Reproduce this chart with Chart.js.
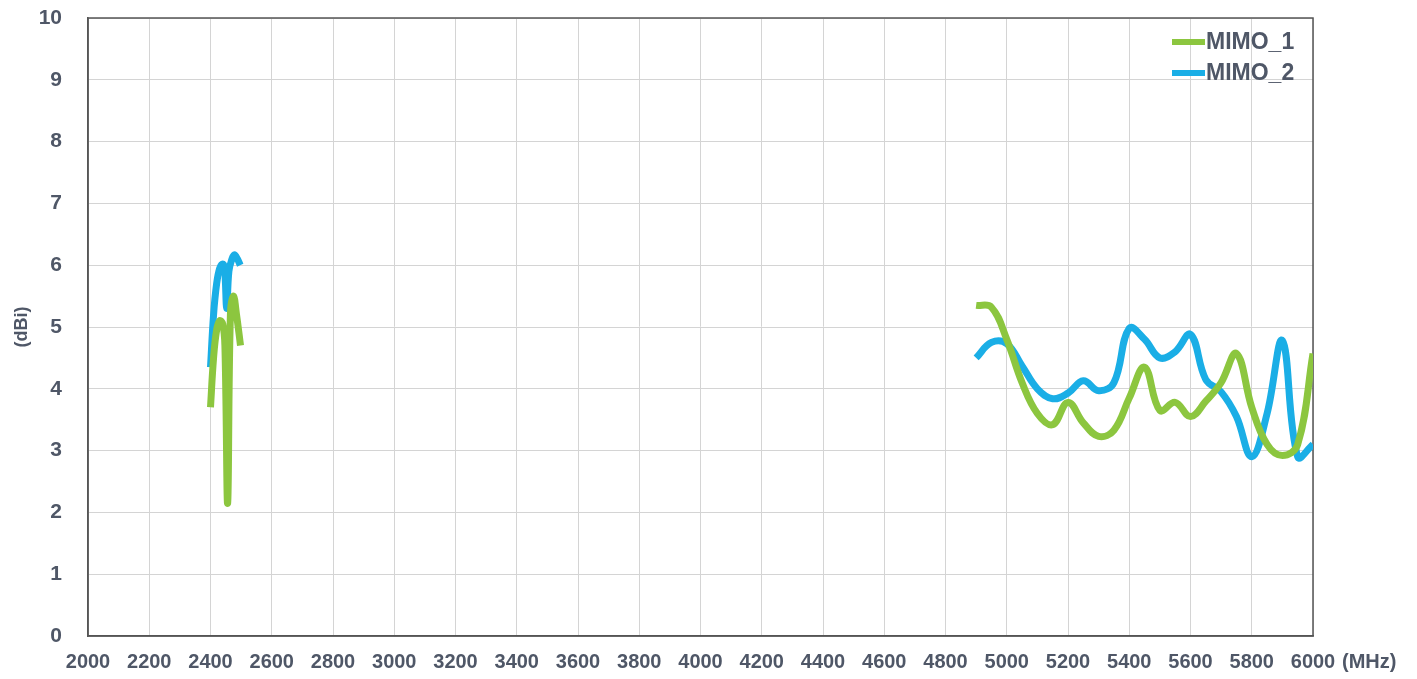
<!DOCTYPE html>
<html>
<head>
<meta charset="utf-8">
<script src="https://cdn.jsdelivr.net/npm/chart.js@4"></script>
<style>
  html, body { margin: 0; padding: 0; background: #fff; }
  #wrap { width: 1417px; height: 679px; }
</style>
</head>
<body>
<div id="wrap"><canvas id="gain-chart"></canvas></div>
<script>
// frequency (MHz) and gain (dBi)
var freq1Low = [2400, 2410, 2420, 2430, 2440, 2447, 2456, 2465, 2475, 2485, 2498];
var mimo1Low = [3.7, 4.5, 4.95, 5.1, 5.05, 4.7, 2.15, 5.2, 5.5, 5.2, 4.7];
var freq2Low = [2400, 2410, 2420, 2430, 2440, 2446, 2453, 2460, 2470, 2478, 2488, 2497];
var mimo2Low = [4.35, 5.2, 5.7, 5.95, 6.02, 5.95, 5.3, 5.9, 6.1, 6.17, 6.1, 6.0];

var freqHigh = [4900, 4950, 5000, 5050, 5100, 5150, 5200, 5250, 5300, 5350, 5400, 5450,
                5500, 5550, 5600, 5650, 5700, 5750, 5800, 5850, 5900, 5950, 6000];
var mimo1High = [5.35, 5.32, 4.8, 4.1, 3.6, 3.42, 3.78, 3.45, 3.23, 3.33, 3.85, 4.35,
                 3.65, 3.78, 3.55, 3.8, 4.1, 4.57, 3.7, 3.1, 2.92, 3.1, 4.57];
var mimo2High = [4.5, 4.75, 4.73, 4.37, 4.0, 3.84, 3.93, 4.13, 3.97, 4.1, 4.98, 4.8,
                 4.5, 4.6, 4.88, 4.15, 3.95, 3.55, 2.9, 3.6, 4.78, 2.9, 3.1];

var seriesNames = ["MIMO_1", "MIMO_2"];

function toPoints(fa, va, fb, vb) {
  var pts = [];
  for (var i = 0; i < fa.length; i++) pts.push({ x: fa[i], y: va[i] });
  pts.push({ x: 3700, y: null }); // gap between the two bands
  for (var j = 0; j < fb.length; j++) pts.push({ x: fb[j], y: vb[j] });
  return pts;
}

var textColor = "#4f5767";
var green = "#8cc63f";
var blue = "#1aaee6";
var fontFam = "'Liberation Sans', Arial, sans-serif";

// frame, (MHz) unit and the legend in the top right
var extras = {
  id: "extras",
  beforeDatasetsDraw: function(chart) {
    var a = chart.chartArea;
    var ctx = chart.ctx;
    ctx.save();
    ctx.strokeStyle = "#555";
    ctx.lineWidth = 1.5;
    ctx.strokeRect(a.left, a.top, a.right - a.left, a.bottom - a.top);
    ctx.restore();
  },
  afterDraw: function(chart) {
    var ctx = chart.ctx;
    var x = chart.scales.x;
    ctx.save();
    ctx.fillStyle = textColor;
    ctx.font = "bold 20px " + fontFam;
    ctx.textBaseline = "middle";
    ctx.textAlign = "left";
    ctx.fillText("(MHz)", x.right + 29, 662);

    var cols = [green, blue];
    for (var i = 0; i < seriesNames.length; i++) {
      var yy = 42 + i * 31;
      ctx.strokeStyle = cols[i];
      ctx.lineWidth = 6;
      ctx.beginPath();
      ctx.moveTo(1172, yy);
      ctx.lineTo(1205, yy);
      ctx.stroke();
      ctx.fillStyle = textColor;
      ctx.font = "bold 23px " + fontFam;
      ctx.fillText(seriesNames[i], 1206, yy + 1);
    }
    ctx.restore();
  }
};

var ctx1 = document.getElementById("gain-chart").getContext("2d");
var myChart = new Chart(ctx1, {
  type: "line",
  data: {
    datasets: [
      {
        label: seriesNames[0],
        data: toPoints(freq1Low, mimo1Low, freqHigh, mimo1High),
        borderColor: green,
        borderWidth: 7,
        pointRadius: 0,
        tension: 0.4,
        fill: false
      },
      {
        label: seriesNames[1],
        data: toPoints(freq2Low, mimo2Low, freqHigh, mimo2High),
        borderColor: blue,
        borderWidth: 7,
        pointRadius: 0,
        tension: 0.4,
        fill: false
      }
    ]
  },
  options: {
    responsive: true,
    maintainAspectRatio: false,
    animation: false,
    layout: { padding: { top: 18, right: 104, left: 11, bottom: 0 } },
    plugins: {
      legend: { display: false },
      tooltip: { enabled: false }
    },
    scales: {
      x: {
        type: "linear",
        min: 2000,
        max: 6000,
        border: { color: "#555", width: 1.5 },
        grid: { color: "#d4d4d4", lineWidth: 1, tickLength: 0 },
        ticks: {
          stepSize: 200,
          maxRotation: 0,
          autoSkip: false,
          padding: 14,
          color: textColor,
          font: { family: fontFam, size: 20, weight: "bold" },
          callback: function(v) { return String(v); }
        },
        afterFit: function(scale) {
          scale.height = 43;
          scale.paddingTop = 0;
          scale.paddingBottom = 0;
        }
      },
      y: {
        min: 0,
        max: 10,
        border: { color: "#555", width: 1.5 },
        grid: { color: "#d4d4d4", lineWidth: 1, tickLength: 0 },
        ticks: {
          stepSize: 1,
          padding: 26,
          color: textColor,
          font: { family: fontFam, size: 21, weight: "bold" },
          callback: function(v) { return String(v); }
        },
        title: {
          display: true,
          text: "(dBi)",
          color: textColor,
          padding: 0,
          font: { family: fontFam, size: 18, weight: "bold" }
        },
        afterFit: function(scale) {
          scale.width = 77;
          scale.paddingTop = 0;
          scale.paddingBottom = 0;
        }
      }
    }
  },
  plugins: [extras]
});
</script>
</body>
</html>
